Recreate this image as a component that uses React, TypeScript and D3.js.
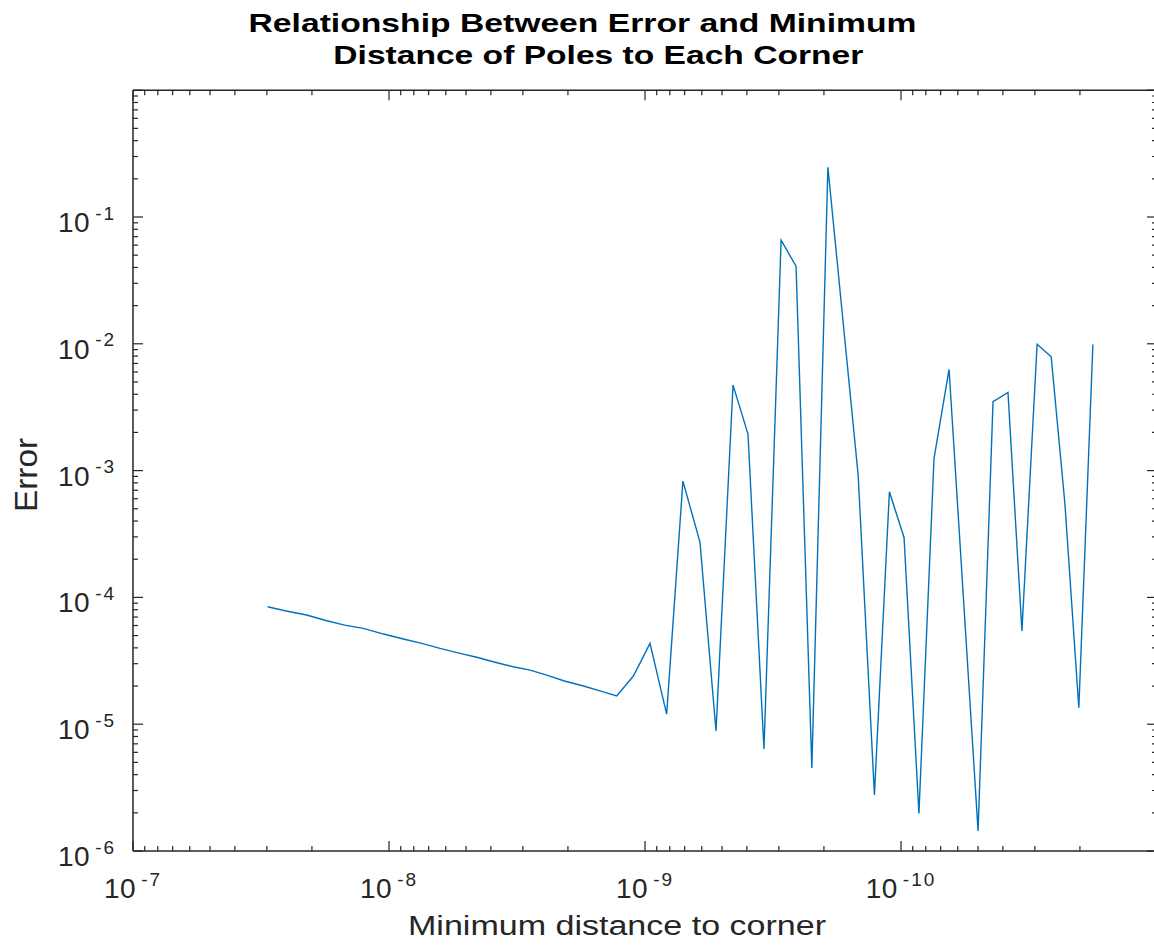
import React from 'react';
import * as d3 from 'd3';

// Minimum pole-to-corner distance for each run, and the resulting error
const distances = [
  2.98e-8, 2.55e-8, 2.10e-8, 1.75e-8, 1.49e-8, 1.26e-8, 1.05e-8, 8.79e-9, 7.45e-9, 6.32e-9,
  5.28e-9, 4.54e-9, 3.92e-9, 3.27e-9, 2.81e-9, 2.42e-9, 2.08e-9, 1.74e-9, 1.50e-9, 1.29e-9,
  1.11e-9, 9.56e-10, 8.23e-10,
  7.11e-10, 6.10e-10, 5.28e-10, 4.53e-10, 3.96e-10, 3.43e-10, 2.94e-10, 2.57e-10, 2.23e-10, 1.93e-10,
  1.47e-10, 1.27e-10, 1.11e-10, 9.73e-11, 8.51e-11, 7.43e-11, 6.49e-11,
  5.00e-11, 4.37e-11, 3.82e-11, 3.37e-11, 2.94e-11, 2.59e-11, 2.29e-11, 2.02e-11, 1.78e-11,
];
const errors = [
  8.43e-5, 7.85e-5, 7.26e-5, 6.55e-5, 6.05e-5, 5.70e-5, 5.14e-5, 4.70e-5, 4.34e-5, 3.96e-5,
  3.62e-5, 3.37e-5, 3.11e-5, 2.84e-5, 2.67e-5, 2.44e-5, 2.20e-5, 2.00e-5, 1.83e-5, 1.67e-5,
  2.40e-5, 4.34e-5, 1.20e-5,
  8.26e-4, 2.73e-4, 8.84e-6, 4.72e-3, 1.94e-3, 6.37e-6, 6.56e-2, 4.09e-2, 4.51e-6, 0.247,
  9.2e-4, 2.77e-6, 6.8e-4, 2.97e-4, 1.98e-6, 1.25e-3, 6.28e-3,
  1.44e-6, 3.49e-3, 4.14e-3, 5.43e-5, 9.94e-3, 7.89e-3, 5.51e-4, 1.35e-5, 9.89e-3,
];

const xDomain = [1e-7, 1e-11];
const yDomain = [1e-6, 1];
const xLabelExponents = [-7, -8, -9, -10];
const yLabelExponents = [-6, -5, -4, -3, -2, -1];
const xDecades = [-11, -10, -9, -8, -7];
const yDecades = [-6, -5, -4, -3, -2, -1, 0];

const titleLines = ['Relationship Between Error and Minimum', 'Distance of Poles to Each Corner'];
const xAxisTitle = 'Minimum distance to corner';
const yAxisTitle = 'Error';

const WIDTH = 1154;
const HEIGHT = 950;
const PLOT = { left: 133, right: 1157, top: 90.2, bottom: 851 };
const AXIS_COLOR = '#262626';
const LINE_COLOR = '#0072BD';
const FONT = '"Liberation Sans", Arial, Helvetica, sans-serif';
const MAJOR = 10;
const MINOR = 5;

function minorValues(decades: number[], lo: number, hi: number) {
  const out: number[] = [];
  decades.forEach((e) => {
    for (let m = 2; m <= 9; m++) {
      const v = m * Math.pow(10, e);
      if (v > lo && v < hi) out.push(v);
    }
  });
  return out;
}

function PowerLabel({ exp, x, y, anchor }: { exp: number; x: number; y: number; anchor: string }) {
  return (
    <text x={x} y={y} textAnchor={anchor} fontFamily={FONT} fill={AXIS_COLOR} fontSize={28}>
      <tspan letterSpacing={0.5}>10</tspan>
      <tspan fontSize={19} dx={5} dy={-12.5} letterSpacing={2}>{String(exp)}</tspan>
    </text>
  );
}

export default function App() {
  const x = d3.scaleLog().domain(xDomain).range([PLOT.left, PLOT.right]);
  const y = d3.scaleLog().domain(yDomain).range([PLOT.bottom, PLOT.top]);

  const points = distances.map((d, i) => [d, errors[i]] as [number, number]);
  const path = d3
    .line<[number, number]>()
    .x((d) => x(d[0]))
    .y((d) => y(d[1]))(points);

  const xMajor = xDecades.map((e) => Math.pow(10, e));
  const yMajor = yDecades.map((e) => Math.pow(10, e));
  const xMinor = minorValues(xDecades, 1e-11, 1e-7);
  const yMinor = minorValues(yDecades, 1e-6, 1);

  return (
    <svg
      width={WIDTH}
      height={HEIGHT}
      style={{ position: 'absolute', left: 0, top: 0, background: '#fff' }}
    >
      <rect x={0} y={0} width={WIDTH} height={HEIGHT} fill="#fff" />

      {/* data line */}
      <path d={path || ''} fill="none" stroke={LINE_COLOR} strokeWidth={1.4} strokeLinejoin="miter" />

      {/* box */}
      <g stroke={AXIS_COLOR} strokeWidth={1.5} fill="none">
        <line x1={PLOT.left} x2={PLOT.right} y1={PLOT.bottom} y2={PLOT.bottom} />
        <line x1={PLOT.left} x2={PLOT.right} y1={PLOT.top} y2={PLOT.top} />
        <line x1={PLOT.left} x2={PLOT.left} y1={PLOT.top} y2={PLOT.bottom} />
        <line x1={PLOT.right} x2={PLOT.right} y1={PLOT.top} y2={PLOT.bottom} />
      </g>

      {/* ticks, pointing inward on all four sides */}
      <g stroke={AXIS_COLOR} strokeWidth={1.2}>
        {xMajor.map((v) => (
          <g key={'xM' + v}>
            <line x1={x(v)} x2={x(v)} y1={PLOT.bottom} y2={PLOT.bottom - MAJOR} />
            <line x1={x(v)} x2={x(v)} y1={PLOT.top} y2={PLOT.top + MAJOR} />
          </g>
        ))}
        {xMinor.map((v) => (
          <g key={'xm' + v}>
            <line x1={x(v)} x2={x(v)} y1={PLOT.bottom} y2={PLOT.bottom - MINOR} />
            <line x1={x(v)} x2={x(v)} y1={PLOT.top} y2={PLOT.top + MINOR} />
          </g>
        ))}
        {yMajor.map((v) => (
          <g key={'yM' + v}>
            <line x1={PLOT.left} x2={PLOT.left + MAJOR} y1={y(v)} y2={y(v)} />
            <line x1={PLOT.right} x2={PLOT.right - MAJOR} y1={y(v)} y2={y(v)} />
          </g>
        ))}
        {yMinor.map((v) => (
          <g key={'ym' + v}>
            <line x1={PLOT.left} x2={PLOT.left + MINOR} y1={y(v)} y2={y(v)} />
            <line x1={PLOT.right} x2={PLOT.right - MINOR} y1={y(v)} y2={y(v)} />
          </g>
        ))}
      </g>

      {/* tick labels */}
      {xLabelExponents.map((e) => (
        <PowerLabel key={'xl' + e} exp={e} x={x(Math.pow(10, e))} y={898} anchor="middle" />
      ))}
      {yLabelExponents.map((e) => (
        <PowerLabel key={'yl' + e} exp={e} x={58} y={y(Math.pow(10, e)) + 15} anchor="start" />
      ))}

      {/* axis titles */}
      <text
        x={617}
        y={935}
        textAnchor="middle"
        fontFamily={FONT}
        fontSize={27}
        fill={AXIS_COLOR}
        textLength={418}
        lengthAdjust="spacingAndGlyphs"
      >
        {xAxisTitle}
      </text>
      <text
        transform="translate(37,475) rotate(-90)"
        textAnchor="middle"
        fontFamily={FONT}
        fontSize={32}
        fill={AXIS_COLOR}
        textLength={74}
        lengthAdjust="spacingAndGlyphs"
      >
        {yAxisTitle}
      </text>

      {/* title */}
      <text
        x={582.5}
        y={32}
        textAnchor="middle"
        fontFamily={FONT}
        fontWeight="bold"
        fontSize={26}
        fill="#000"
        textLength={668}
        lengthAdjust="spacingAndGlyphs"
      >
        {titleLines[0]}
      </text>
      <text
        x={598.3}
        y={63.5}
        textAnchor="middle"
        fontFamily={FONT}
        fontWeight="bold"
        fontSize={26}
        fill="#000"
        textLength={530}
        lengthAdjust="spacingAndGlyphs"
      >
        {titleLines[1]}
      </text>
    </svg>
  );
}
